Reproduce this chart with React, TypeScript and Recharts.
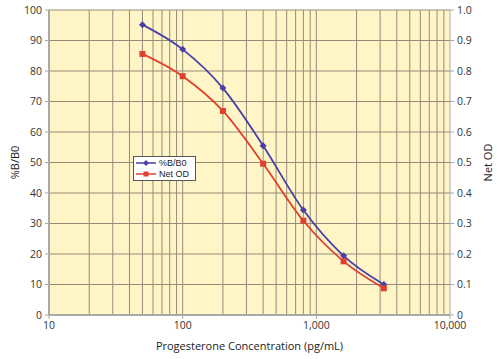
import { ComposedChart, Line, XAxis, YAxis, CartesianGrid, ReferenceLine } from 'recharts'

const concentrations = [50, 100, 200, 400, 800, 1600, 3200]
const bB0 = [95.2, 87.1, 74.4, 55.5, 34.4, 19.4, 10.0]
const netOD = [0.856, 0.783, 0.669, 0.496, 0.309, 0.176, 0.0875]

const xTicks = [10, 100, 1000, 10000]
const xMinorTicks = [
  20, 30, 40, 50, 60, 70, 80, 90,
  100, 200, 300, 400, 500, 600, 700, 800, 900,
  1000, 2000, 3000, 4000, 5000, 6000, 7000, 8000, 9000,
]
const leftTicks = [0, 10, 20, 30, 40, 50, 60, 70, 80, 90, 100]
const rightTicks = [0, 0.1, 0.2, 0.3, 0.4, 0.5, 0.6, 0.7, 0.8, 0.9, 1.0]

const BLUE = '#4a3fa8'
const RED = '#e0402f'
const GRID = '#958c78'
const FONT = '"Open Sans", sans-serif'

const data = concentrations.map((c, i) => ({ conc: c, bb0: bB0[i], od: netOD[i] }))

function LegendBox() {
  const rows = [
    { label: '%B/B0', color: BLUE, shape: 'diamond' },
    { label: 'Net OD', color: RED, shape: 'square' },
  ]
  return (
    <div style={{ position: 'absolute', left: 133, top: 156, background: '#fff', border: '1px solid #555', width: 61, padding: '1px 0', fontFamily: '"Liberation Sans", Arial, sans-serif', fontSize: 9, color: '#222' }}>
      {rows.map((r) => (
        <div key={r.label} style={{ display: 'flex', alignItems: 'center', height: 10.5 }}>
          <svg width={24} height={10} style={{ marginLeft: 1 }}>
            <line x1={1} y1={5} x2={21} y2={5} stroke={r.color} strokeWidth={1.5} />
            {r.shape === 'diamond'
              ? <polygon points="11,2 14,5 11,8 8,5" fill={r.color} />
              : <rect x={8.5} y={2.5} width={5} height={5} fill={r.color} />}
          </svg>
          <span>{r.label}</span>
        </div>
      ))}
    </div>
  )
}

export default function App() {
  return (
    <div style={{ position: 'absolute', left: 0, top: 0, width: 501, height: 359, background: '#fff' }}>
      <ComposedChart width={501} height={359} data={data} margin={{ top: 10, right: 0, left: 0, bottom: 0 }}>
        <CartesianGrid yAxisId="left" vertical={false} stroke={GRID} strokeWidth={1} fill="#fff5c6" />
        <XAxis
          dataKey="conc" type="number" scale="log" domain={[10, 10000]} ticks={xTicks}
          allowDataOverflow height={44}
          tickFormatter={(v: number) => v.toLocaleString('en-US')}
          tick={{ fontSize: 10.5, fill: '#333', fontFamily: FONT }}
          axisLine={{ stroke: '#a8a8a8', strokeWidth: 2 }} tickLine={{ stroke: '#a8a8a8' }} tickSize={4} tickMargin={3}
          label={{ value: 'Progesterone Concentration (pg/mL)', position: 'insideBottom', offset: 9, style: { fontSize: 11, fill: '#222', fontFamily: FONT } }}
        />
        <YAxis
          yAxisId="left" domain={[0, 100]} ticks={leftTicks} width={49}
          tick={{ fontSize: 10.5, fill: '#333', fontFamily: FONT }}
          axisLine={{ stroke: '#a8a8a8', strokeWidth: 2 }} tickLine={{ stroke: '#a8a8a8' }} tickSize={4} tickMargin={3}
          label={{ value: '%B/B0', angle: -90, position: 'insideLeft', offset: 15, style: { textAnchor: 'middle', fontSize: 11, fill: '#222', fontFamily: FONT } }}
        />
        <YAxis
          yAxisId="right" orientation="right" domain={[0, 1]} ticks={rightTicks} width={51}
          tickFormatter={(v: number) => (v === 0 ? '0' : v.toFixed(1))}
          tick={{ fontSize: 10.5, fill: '#333', fontFamily: FONT }}
          axisLine={{ stroke: '#a8a8a8', strokeWidth: 1 }} tickLine={{ stroke: '#a8a8a8' }} tickSize={4} tickMargin={3}
          label={{ value: 'Net OD', angle: -90, position: 'insideRight', offset: 13, style: { textAnchor: 'middle', fontSize: 11, fill: '#222', fontFamily: FONT } }}
        />
        {xMinorTicks.map((t) => (
          <ReferenceLine key={t} x={t} yAxisId="left" stroke={GRID} strokeWidth={1} ifOverflow="hidden" />
        ))}
        <Line
          yAxisId="left" dataKey="bb0" type="monotone" stroke={BLUE} strokeWidth={1.8}
          dot={(p: any) => (
            <polygon key={p.index} points={`${p.cx},${p.cy - 3.5} ${p.cx + 3.5},${p.cy} ${p.cx},${p.cy + 3.5} ${p.cx - 3.5},${p.cy}`} fill={BLUE} />
          )}
          isAnimationActive={false}
        />
        <Line
          yAxisId="right" dataKey="od" type="monotone" stroke={RED} strokeWidth={1.8}
          dot={(p: any) => <rect key={p.index} x={p.cx - 3} y={p.cy - 3} width={6} height={6} fill={RED} />}
          isAnimationActive={false}
        />
      </ComposedChart>
      <LegendBox />
    </div>
  )
}
